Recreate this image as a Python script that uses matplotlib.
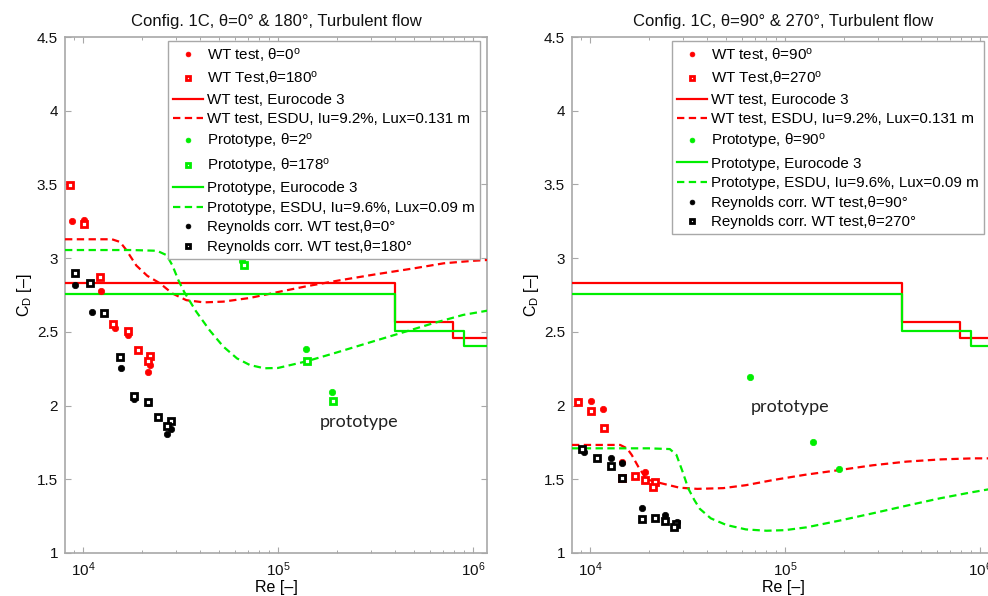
import matplotlib
matplotlib.use("Agg")
import matplotlib.pyplot as plt
from matplotlib.ticker import FixedLocator, FuncFormatter, LogLocator, NullFormatter

plt.rcParams['font.family'] = ['Liberation Sans', 'DejaVu Sans']
plt.rcParams['mathtext.fontset'] = 'custom'
plt.rcParams['mathtext.rm'] = 'Liberation Sans'
plt.rcParams['mathtext.it'] = 'Liberation Sans:italic'
plt.rcParams['mathtext.bf'] = 'Liberation Sans:bold'

# ---------------- data: left panel (theta = 0 / 180) ----------------
L_wt0_re = [8.8e3, 1.01e4, 1.22e4, 1.24e4, 1.47e4, 1.71e4, 1.92e4, 2.21e4, 2.15e4]
L_wt0_cd = [3.25, 3.26, 2.874, 2.78, 2.528, 2.48, 2.377, 2.275, 2.23]
L_wt180_re = [8.6e3, 1.01e4, 1.22e4, 1.43e4, 1.71e4, 1.92e4, 2.21e4, 2.15e4]
L_wt180_cd = [3.497, 3.23, 2.874, 2.55, 2.506, 2.377, 2.339, 2.305]
L_pr2_re = [6.51e4, 1.40e5, 1.90e5]
L_pr2_cd = [2.98, 2.386, 2.092]
L_pr178_re = [6.7e4, 1.41e5, 1.92e5]
L_pr178_cd = [2.954, 2.30, 2.031]
L_rc0_re = [9.13e3, 1.11e4, 1.28e4, 1.55e4, 1.57e4, 1.83e4, 2.16e4, 2.43e4, 2.82e4, 2.7e4]
L_rc0_cd = [2.816, 2.635, 2.63, 2.328, 2.253, 2.045, 2.02, 1.925, 1.84, 1.81]
L_rc180_re = [9.13e3, 1.09e4, 1.28e4, 1.55e4, 1.83e4, 2.16e4, 2.43e4, 2.82e4, 2.7e4]
L_rc180_cd = [2.896, 2.834, 2.63, 2.328, 2.067, 2.027, 1.925, 1.896, 1.864]

L_esdu_wt_re = [8.1e3, 1.41e4, 1.55e4, 1.66e4, 1.88e4, 2.14e4, 2.48e4, 2.88e4, 3.39e4, 4.17e4,
                5.25e4, 7.18e4, 1.0e5, 1.41e5, 2.08e5, 3.16e5, 4.94e5, 7.08e5, 1.0e6, 1.2e6]
L_esdu_wt_cd = [3.128, 3.128, 3.11, 3.06, 2.95, 2.88, 2.83, 2.76, 2.715, 2.70,
                2.705, 2.73, 2.77, 2.81, 2.85, 2.89, 2.93, 2.965, 2.982, 2.988]
L_esdu_pr_re = [8.1e3, 1.78e4, 2.40e4, 2.69e4, 2.88e4, 3.09e4, 3.31e4, 3.80e4, 4.47e4, 5.25e4,
                6.17e4, 7.18e4, 8.51e4, 1.0e5, 1.40e5, 2.0e5, 2.82e5, 4.22e5, 6.31e5, 8.91e5, 1.2e6]
L_esdu_pr_cd = [3.055, 3.055, 3.05, 3.02, 2.95, 2.85, 2.77, 2.64, 2.51, 2.40,
                2.32, 2.275, 2.253, 2.255, 2.30, 2.36, 2.42, 2.49, 2.56, 2.615, 2.645]

# ---------------- data: right panel (theta = 90 / 270) ----------------
R_wt90_re = [8.71e3, 1.01e4, 1.17e4, 1.47e4, 1.71e4, 1.91e4, 2.17e4]
R_wt90_cd = [2.03, 2.03, 1.98, 1.62, 1.524, 1.547, 1.484]
R_wt270_re = [8.71e3, 1.01e4, 1.18e4, 1.47e4, 1.71e4, 1.91e4, 2.17e4, 2.11e4]
R_wt270_cd = [2.025, 1.963, 1.85, 1.507, 1.524, 1.495, 1.484, 1.446]
R_pr90_re = [6.6e4, 1.39e5, 1.89e5]
R_pr90_cd = [2.197, 1.753, 1.57]
R_rc90_re = [9.31e3, 1.09e4, 1.28e4, 1.47e4, 1.86e4, 2.17e4, 2.43e4, 2.8e4]
R_rc90_cd = [1.687, 1.647, 1.647, 1.609, 1.308, 1.235, 1.258, 1.21]
R_rc270_re = [9.13e3, 1.09e4, 1.28e4, 1.47e4, 1.86e4, 2.17e4, 2.43e4, 2.76e4, 2.7e4]
R_rc270_cd = [1.703, 1.647, 1.592, 1.507, 1.228, 1.235, 1.217, 1.20, 1.174]

R_esdu_wt_re = [8.1e3, 1.43e4, 1.55e4, 1.64e4, 1.77e4, 1.95e4, 2.29e4, 2.88e4, 3.55e4, 4.83e4,
                6.31e4, 8.71e4, 1.26e5, 1.91e5, 2.82e5, 4.21e5, 6.31e5, 9.25e5, 1.2e6]
R_esdu_wt_cd = [1.733, 1.733, 1.71, 1.665, 1.586, 1.50, 1.475, 1.443, 1.435, 1.44,
                1.46, 1.495, 1.53, 1.563, 1.595, 1.62, 1.635, 1.642, 1.642]
R_esdu_pr_re = [8.1e3, 2.0e4, 2.57e4, 2.78e4, 3.01e4, 3.19e4, 3.43e4, 3.66e4, 4.17e4, 5.01e4,
                6.31e4, 8.05e4, 1.0e5, 1.29e5, 1.91e5, 2.84e5, 4.17e5, 6.24e5, 8.91e5, 1.2e6]
R_esdu_pr_cd = [1.71, 1.71, 1.705, 1.665, 1.54, 1.44, 1.36, 1.30, 1.235, 1.19,
                1.16, 1.151, 1.155, 1.174, 1.22, 1.27, 1.32, 1.371, 1.41, 1.44]

# Eurocode 3 step curves (same in both panels)
EC_wt_re = [8.1e3, 4.0e5, 7.9e5, 1.2e6]
EC_wt_cd = [2.83, 2.567, 2.458, 2.458]
EC_pr_re = [8.1e3, 4.0e5, 8.95e5, 1.2e6]
EC_pr_cd = [2.757, 2.505, 2.402, 2.402]

y_ticks = [1, 1.5, 2, 2.5, 3, 3.5, 4, 4.5]
x_lim = (8.1e3, 1.18e6)
y_lim = (1, 4.5)

RED = '#ff0000'
GREEN = '#00ee00'
BLACK = '#000000'
SPINE = '#a8a8a8'

fig = plt.figure(figsize=(9.88, 5.96), dpi=100)
axL = fig.add_axes([65 / 988, 43 / 596, 422 / 988, 516 / 596])
axR = fig.add_axes([572 / 988, 43 / 596, 422 / 988, 516 / 596])

ms_c = 4.6
ms_s = 3.7
mew_s = 2.0
dash = (3.3, 2.0)


def circ(ax, x, y, c, label):
    ax.plot(x, y, ls='none', marker='o', ms=ms_c, mfc=c, mec=c, mew=0.5, label=label, zorder=4)


def sq(ax, x, y, c, label):
    ax.plot(x, y, ls='none', marker='s', ms=ms_s, mfc='white', mec=c, mew=mew_s, label=label, zorder=4)


def style(ax, title):
    ax.set_xscale('log')
    ax.set_xlim(*x_lim)
    ax.set_ylim(*y_lim)
    ax.yaxis.set_major_locator(FixedLocator(y_ticks))
    ax.yaxis.set_major_formatter(FuncFormatter(lambda v, p: '%g' % v))
    ax.xaxis.set_major_locator(LogLocator(base=10, numticks=10))
    ax.xaxis.set_minor_locator(LogLocator(base=10, subs=range(2, 10), numticks=20))
    ax.xaxis.set_minor_formatter(NullFormatter())
    ax.tick_params(which='both', direction='in', top=True, right=True, color=SPINE,
                   labelsize=11, labelcolor='#111111')
    ax.tick_params(which='major', length=4, width=0.8, pad=5)
    ax.tick_params(which='minor', length=2.5, width=0.7)
    for s in ax.spines.values():
        s.set_color(SPINE)
        s.set_linewidth(1.2)
    ax.set_xlabel('Re [–]', fontsize=11.5, labelpad=1)
    ax.set_ylabel('C$_\\mathrm{D}$ [–]', fontsize=11.5, labelpad=2)
    ax.set_title(title, fontsize=12, pad=8, color='#111111')


# ---------------- left ----------------
circ(axL, L_wt0_re, L_wt0_cd, RED, 'WT test, θ=0$^{\\mathrm{o}}$')
sq(axL, L_wt180_re, L_wt180_cd, RED, 'WT Test,θ=180$^{\\mathrm{o}}$')
axL.step(EC_wt_re, EC_wt_cd, where='post', color=RED, lw=1.6, label='WT test, Eurocode 3', zorder=3)
axL.plot(L_esdu_wt_re, L_esdu_wt_cd, color=RED, lw=1.6, dashes=dash,
         label='WT test, ESDU, Iu=9.2%, Lux=0.131 m', zorder=3)
circ(axL, L_pr2_re, L_pr2_cd, GREEN, 'Prototype, θ=2$^{\\mathrm{o}}$')
sq(axL, L_pr178_re, L_pr178_cd, GREEN, 'Prototype, θ=178$^{\\mathrm{o}}$')
axL.step(EC_pr_re, EC_pr_cd, where='post', color=GREEN, lw=1.6, label='Prototype, Eurocode 3', zorder=3)
axL.plot(L_esdu_pr_re, L_esdu_pr_cd, color=GREEN, lw=1.6, dashes=dash,
         label='Prototype, ESDU, Iu=9.6%, Lux=0.09 m', zorder=3)
circ(axL, L_rc0_re, L_rc0_cd, BLACK, 'Reynolds corr. WT test,θ=0°')
sq(axL, L_rc180_re, L_rc180_cd, BLACK, 'Reynolds corr. WT test,θ=180°')
style(axL, 'Config. 1C, θ=0° & 180°, Turbulent flow')
axL.text(2.6e5, 1.89, 'prototype', fontsize=13, family=['Lato', 'DejaVu Sans'],
         color='#222222', ha='center', va='center')

# ---------------- right ----------------
circ(axR, R_wt90_re, R_wt90_cd, RED, 'WT test, θ=90$^{\\mathrm{o}}$')
sq(axR, R_wt270_re, R_wt270_cd, RED, 'WT Test,θ=270$^{\\mathrm{o}}$')
axR.step(EC_wt_re, EC_wt_cd, where='post', color=RED, lw=1.6, label='WT test, Eurocode 3', zorder=3)
axR.plot(R_esdu_wt_re, R_esdu_wt_cd, color=RED, lw=1.6, dashes=dash,
         label='WT test, ESDU, Iu=9.2%, Lux=0.131 m', zorder=3)
circ(axR, R_pr90_re, R_pr90_cd, GREEN, 'Prototype, θ=90$^{\\mathrm{o}}$')
axR.step(EC_pr_re, EC_pr_cd, where='post', color=GREEN, lw=1.6, label='Prototype, Eurocode 3', zorder=3)
axR.plot(R_esdu_pr_re, R_esdu_pr_cd, color=GREEN, lw=1.6, dashes=dash,
         label='Prototype, ESDU, Iu=9.6%, Lux=0.09 m', zorder=3)
circ(axR, R_rc90_re, R_rc90_cd, BLACK, 'Reynolds corr. WT test,θ=90°')
sq(axR, R_rc270_re, R_rc270_cd, BLACK, 'Reynolds corr. WT test,θ=270°')
style(axR, 'Config. 1C, θ=90° & 270°, Turbulent flow')
axR.text(1.06e5, 1.99, 'prototype', fontsize=13, family=['Lato', 'DejaVu Sans'],
         color='#222222', ha='center', va='center')

for ax, anchor in ((axL, (0.244, 0.992)), (axR, (0.237, 0.992))):
    leg = ax.legend(loc='upper left', bbox_to_anchor=anchor, fontsize=10.9, frameon=True,
                    fancybox=False, framealpha=1, edgecolor=SPINE, borderpad=0.3,
                    labelspacing=0.37, handlelength=2.0, handletextpad=0.3,
                    markerscale=0.75, borderaxespad=0)
    leg.get_frame().set_linewidth(1.0)

fig.savefig('out.png', dpi=100)
